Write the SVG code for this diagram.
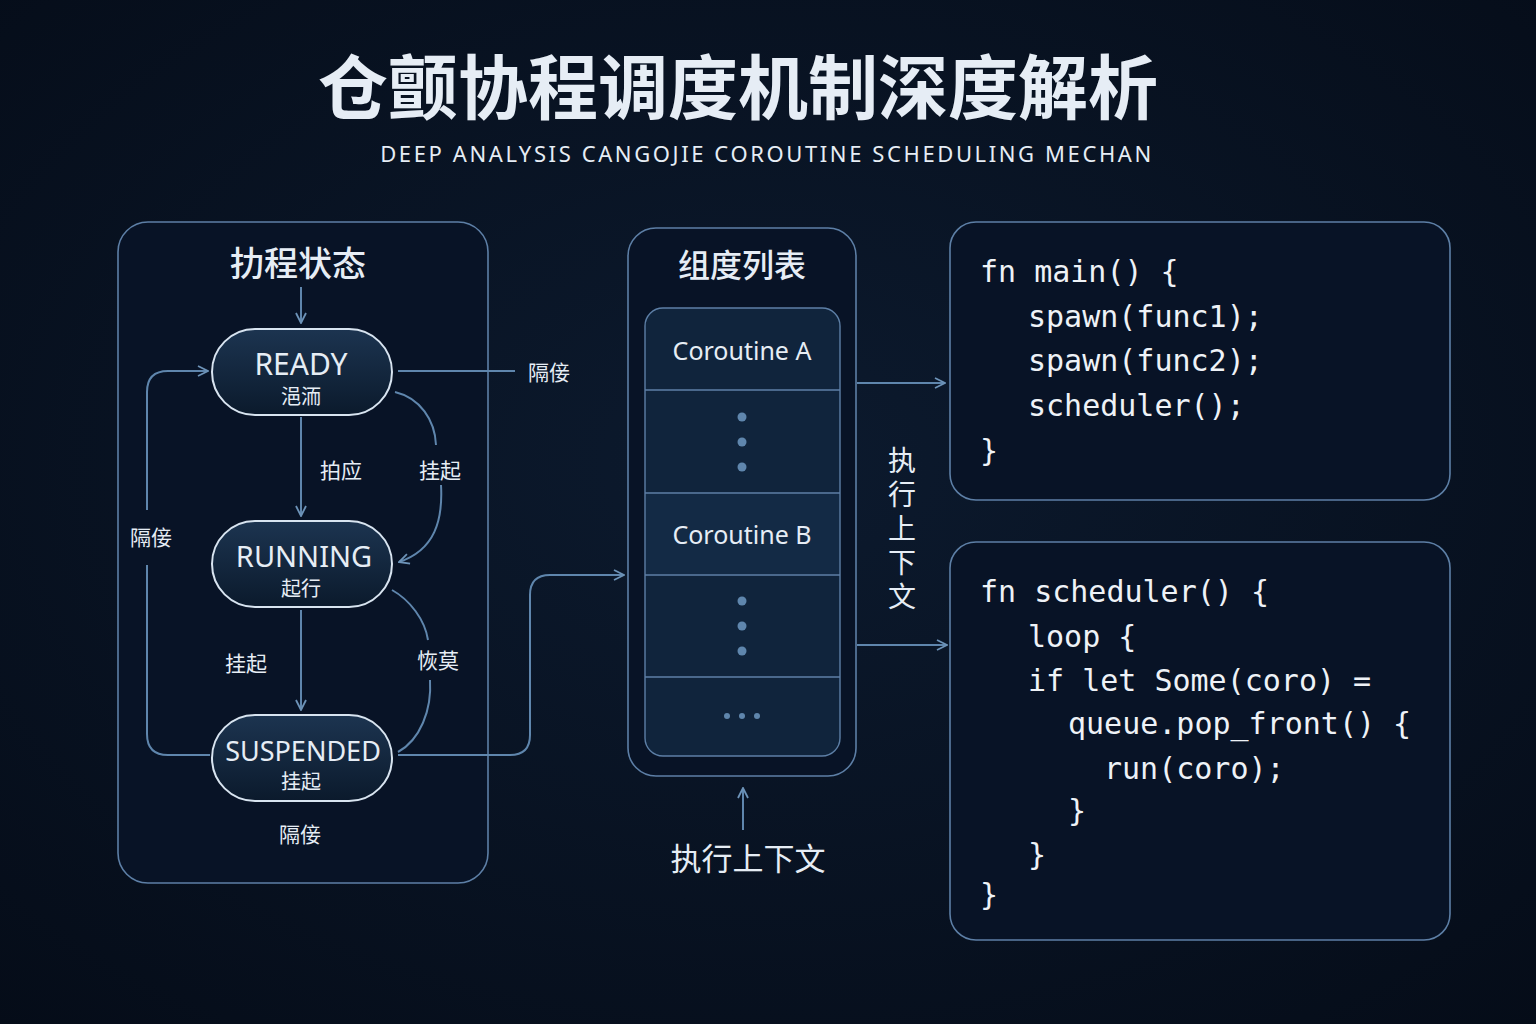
<svg xmlns="http://www.w3.org/2000/svg" width="1536" height="1024" viewBox="0 0 1536 1024">
<defs>
<radialGradient id="bg" cx="50%" cy="45%" r="75%"><stop offset="0" stop-color="#0c1a2e"/><stop offset="1" stop-color="#050c18"/></radialGradient>
<linearGradient id="pill" x1="0" y1="0" x2="0" y2="1"><stop offset="0" stop-color="#1c3450"/><stop offset="1" stop-color="#0b1a2c"/></linearGradient>
<marker id="ar" viewBox="0 0 12 12" refX="11" refY="6" markerWidth="12" markerHeight="12" markerUnits="userSpaceOnUse" orient="auto"><path d="M1,1 L11,6 L1,11" fill="none" stroke="#6d93b8" stroke-width="1.8"/></marker>
<style>
.panel{fill:#081326;stroke:#5d7fa6;stroke-width:1.6}
.pill{fill:url(#pill);stroke:#d8e4f0;stroke-width:2}
.ln{fill:none;stroke:#5f86ad;stroke-width:2}
.t{font-family:"Noto Sans","Noto Sans CJK SC",sans-serif;fill:#e6edf5}
.cjk{font-family:"Noto Sans CJK SC",sans-serif;fill:#e6edf5}
.code{font-family:"DejaVu Sans Mono","Liberation Mono",monospace;fill:#eef2f7;font-size:30px}
.row{fill:#10243c;stroke:#5d7fa6;stroke-width:1.4}
.dot{fill:#5f86ad}
</style>
</defs>
<rect width="1536" height="1024" fill="url(#bg)"/>
<g id="title">
<text x="738" y="114" text-anchor="middle" class="cjk" font-size="70" font-weight="700" fill="#e8ecf2">仓颤协程调度机制深度解析</text>
<text x="767" y="162" text-anchor="middle" class="t" font-size="22" letter-spacing="2.6" fill="#a8cdf0">DEEP ANALYSIS CANGOJIE COROUTINE SCHEDULING MECHAN</text>
</g>
<g id="state-panel">
<rect x="118" y="222" width="370" height="661" rx="30" class="panel"/>
<text x="298" y="276" text-anchor="middle" class="cjk" font-size="34" font-weight="500">扐程状态</text>
</g>
<g id="ready"><rect x="212" y="329" width="180" height="86" rx="43" class="pill"/>
<text x="301" y="375" text-anchor="middle" class="t" font-size="30">READY</text>
<text x="301" y="404" text-anchor="middle" class="cjk" font-size="20">浥洏</text></g>
<g id="running"><rect x="212" y="521" width="180" height="86" rx="43" class="pill"/>
<text x="304" y="567" text-anchor="middle" class="t" font-size="29">RUNNING</text>
<text x="301" y="596" text-anchor="middle" class="cjk" font-size="20">起行</text></g>
<g id="suspended"><rect x="212" y="715" width="180" height="86" rx="43" class="pill"/>
<text x="303" y="761" text-anchor="middle" class="t" font-size="27">SUSPENDED</text>
<text x="301" y="789" text-anchor="middle" class="cjk" font-size="20">挂起</text></g>
<g id="queue-panel">
<rect x="628" y="228" width="228" height="548" rx="28" class="panel"/>
<text x="742" y="277" text-anchor="middle" class="cjk" font-size="32" font-weight="500">组度列表</text>
<rect x="645" y="308" width="195" height="448" rx="18" class="row"/>
<path d="M645,390H840M645,493H840M645,575H840M645,677H840" stroke="#5d7fa6" stroke-width="1.4"/>
<rect x="646" y="494" width="193" height="80" fill="#132a45"/>
<text x="742" y="360" text-anchor="middle" class="t" font-size="25">Coroutine A</text>
<text x="742" y="544" text-anchor="middle" class="t" font-size="25">Coroutine B</text>
<circle cx="742" cy="417" r="4.5" class="dot"/><circle cx="742" cy="442" r="4.5" class="dot"/><circle cx="742" cy="467" r="4.5" class="dot"/>
<circle cx="742" cy="601" r="4.5" class="dot"/><circle cx="742" cy="626" r="4.5" class="dot"/><circle cx="742" cy="651" r="4.5" class="dot"/>
<circle cx="727" cy="716" r="3" class="dot"/><circle cx="742" cy="716" r="3" class="dot"/><circle cx="757" cy="716" r="3" class="dot"/>
</g>
<g id="code1">
<rect x="950" y="222" width="500" height="278" rx="26" class="panel"/>
<text class="code"><tspan x="980" y="282">fn main() {</tspan><tspan x="1028" y="327">spawn(func1);</tspan><tspan x="1028" y="371">spawn(func2);</tspan><tspan x="1028" y="416">scheduler();</tspan><tspan x="980" y="461">}</tspan></text>
</g>
<g id="code2">
<rect x="950" y="542" width="500" height="398" rx="26" class="panel"/>
<text class="code"><tspan x="980" y="602">fn scheduler() {</tspan><tspan x="1028" y="647">loop {</tspan><tspan x="1028" y="691">if let Some(coro) =</tspan><tspan x="1068" y="734">queue.pop_front() {</tspan><tspan x="1104" y="779">run(coro);</tspan><tspan x="1068" y="821">}</tspan><tspan x="1028" y="865">}</tspan><tspan x="980" y="905">}</tspan></text>
</g>
<g id="connectors">
<path d="M301,287V323" class="ln" marker-end="url(#ar)"/>
<path d="M301,417V516" class="ln" marker-end="url(#ar)"/>
<path d="M301,610V710" class="ln" marker-end="url(#ar)"/>
<path d="M395,392C420,398 435,420 436,445 M441,485C443,520 435,550 399,562" class="ln" marker-end="url(#ar)"/>
<path d="M392,590C410,600 425,620 428,640 M430,680C432,710 420,740 398,752" class="ln"/>
<path d="M210,755H168Q147,755 147,734V565 M147,510V392Q147,371 168,371H208" class="ln" marker-end="url(#ar)"/>
<path d="M398,371H515" class="ln"/>
<path d="M398,755H510Q530,755 530,735V595Q530,575 550,575H624" class="ln" marker-end="url(#ar)"/>
<path d="M857,383H945" class="ln" marker-end="url(#ar)"/>
<path d="M857,645H947" class="ln" marker-end="url(#ar)"/>
<path d="M743,830V788" class="ln" marker-end="url(#ar)"/>
</g>
<g id="labels">
<text x="549" y="380" text-anchor="middle" class="cjk" font-size="21">隔倿</text>
<text x="341" y="478" text-anchor="middle" class="cjk" font-size="21">拍应</text>
<text x="440" y="478" text-anchor="middle" class="cjk" font-size="21">挂起</text>
<text x="151" y="545" text-anchor="middle" class="cjk" font-size="21">隔倿</text>
<text x="246" y="671" text-anchor="middle" class="cjk" font-size="21">挂起</text>
<text x="438" y="668" text-anchor="middle" class="cjk" font-size="21">恢莫</text>
<text x="300" y="842" text-anchor="middle" class="cjk" font-size="21">隔倿</text>
<text x="748" y="870" text-anchor="middle" class="cjk" font-size="31">执行上下文</text>
<text x="902" y="446" class="cjk" font-size="28" writing-mode="tb" letter-spacing="6">执行上下文</text>
</g>
</svg>
